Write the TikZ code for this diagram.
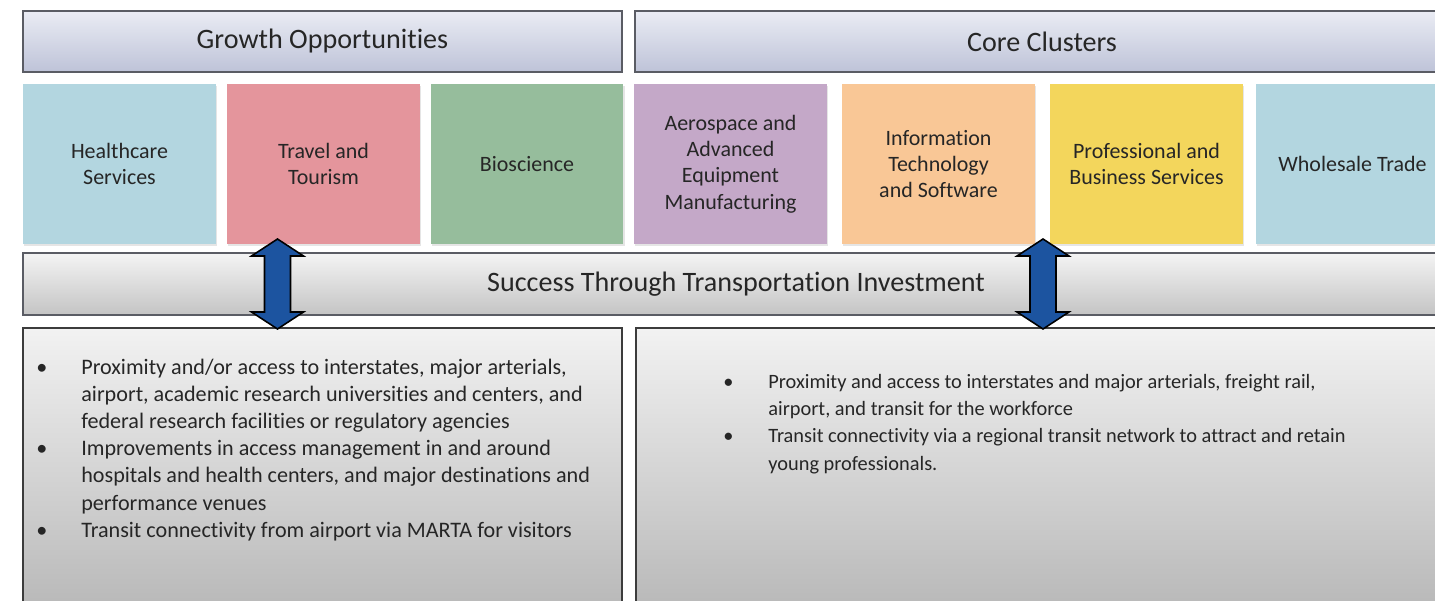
\documentclass[tikz,border=0pt]{standalone}
\usepackage{fontspec}
\setmainfont[Ligatures=NoCommon]{Carlito}
\usetikzlibrary{shadows}
\definecolor{txtcol}{RGB}{38,38,38}
\definecolor{hdrtop}{RGB}{234,236,244}
\definecolor{hdrbot}{RGB}{190,195,216}
\definecolor{hdrline}{RGB}{90,92,100}
\definecolor{bantop}{RGB}{244,244,244}
\definecolor{banbot}{RGB}{196,196,196}
\definecolor{pantop}{RGB}{242,242,242}
\definecolor{panbot}{RGB}{184,184,184}
\definecolor{panline}{RGB}{60,60,60}
\definecolor{cblue}{RGB}{179,214,224}
\definecolor{cpink}{RGB}{228,149,156}
\definecolor{cgreen}{RGB}{150,189,156}
\definecolor{cpurple}{RGB}{196,168,200}
\definecolor{corange}{RGB}{249,199,150}
\definecolor{cyellow}{RGB}{243,214,92}
\definecolor{arrowblue}{RGB}{28,84,160}
\newcommand\myitem{\makebox[0.9cm][l]{\textbullet}}
\newcommand\mycont{\hspace*{0.9cm}}
\begin{document}
\begin{tikzpicture}[x=0.02cm,y=-0.02cm,
  hdr/.style={draw=hdrline, line width=0.8pt, top color=hdrtop, bottom color=hdrbot,
    minimum height=1.22cm, inner sep=0pt, text=txtcol, font=\fontsize{16}{19}\selectfont},
  cbox/.style={minimum width=3.86cm, minimum height=3.2cm, inner sep=0pt, align=center,
    text=txtcol, font=\fontsize{12.5}{15}\selectfont,
    drop shadow={shadow xshift=0.6pt, shadow yshift=-1pt, opacity=0.2}},
  banner/.style={draw=hdrline, line width=0.8pt, top color=bantop, bottom color=banbot,
    minimum height=1.24cm, inner sep=0pt, text=txtcol, font=\fontsize{16}{19}\selectfont},
  panel/.style={draw=panline, line width=0.8pt, top color=pantop, bottom color=panbot,
    minimum height=5.64cm, inner sep=0pt},
  bul/.style={anchor=north west, inner sep=0pt, align=left, text=txtcol},
  blockarrow/.style={draw=black, line width=0.9pt, fill=arrowblue, line join=miter}
]
\path[use as bounding box, clip] (0,0) rectangle (1435,601);
\fill[white] (0,0) rectangle (1435,601);

% headers
\node[hdr, minimum width=11.98cm] (hgo) at (322.5,41.5) {Growth Opportunities};
\node[hdr, minimum width=16.28cm] (hcc) at (1042,41.5) {Core Clusters};

% coloured boxes
\node[cbox, fill=cblue]   (b1) at (119.5,164)  {Healthcare\\Services};
\node[cbox, fill=cpink]   (b2) at (323.5,164)  {Travel and\\Tourism};
\node[cbox, fill=cgreen]  (b3) at (527,164)    {Bioscience};
\node[cbox, fill=cpurple] (b4) at (730.5,164)  {Aerospace and\\Advanced\\Equipment\\Manufacturing};
\node[cbox, fill=corange] (b5) at (938.5,164)  {Information\\Technology\\and Software};
\node[cbox, fill=cyellow] (b6) at (1146.5,164) {Professional and\\Business Services};
\node[cbox, fill=cblue]   (b7) at (1352.5,164) {Wholesale Trade};

% banner
\node[banner, minimum width=28.52cm] (ban) at (736,284) {\raisebox{-1pt}{Success Through Transportation Investment}};

% panels
\node[panel, minimum width=11.98cm] (pl) at (322.5,469) {};
\node[panel, minimum width=16.26cm] (pr) at (1042.5,469) {};

\node[bul, font=\fontsize{12.6}{15.4}\selectfont] (tl) at (36,359) {%
\myitem Proximity and/or access to interstates, major arterials,\\
\mycont airport, academic research universities and centers, and\\
\mycont federal research facilities or regulatory agencies\\
\myitem Improvements in access management in and around\\
\mycont hospitals and health centers, and major destinations and\\
\mycont performance venues\\
\myitem Transit connectivity from airport via MARTA for visitors};

\node[bul, font=\fontsize{11.6}{15.5}\selectfont] (tr) at (723,374) {%
\myitem Proximity and access to interstates and major arterials, freight rail,\\
\mycont airport, and transit for the workforce\\
\myitem Transit connectivity via a regional transit network to attract and retain\\
\mycont young professionals.};

% double arrows
\coordinate (a1t) at (277.5,239);
\coordinate (a1b) at (277.5,329);
\coordinate (a2t) at (1043,239);
\coordinate (a2b) at (1043,329);
\draw[blockarrow] (a1t) -- ++(26,17) -- ++(-13,0) -- ++(0,56) -- ++(13,0) -- (a1b)
  -- ++(-26,-17) -- ++(13,0) -- ++(0,-56) -- ++(-13,0) -- cycle;
\draw[blockarrow] (a2t) -- ++(26,17) -- ++(-13,0) -- ++(0,56) -- ++(13,0) -- (a2b)
  -- ++(-26,-17) -- ++(13,0) -- ++(0,-56) -- ++(-13,0) -- cycle;
\end{tikzpicture}
\end{document}
